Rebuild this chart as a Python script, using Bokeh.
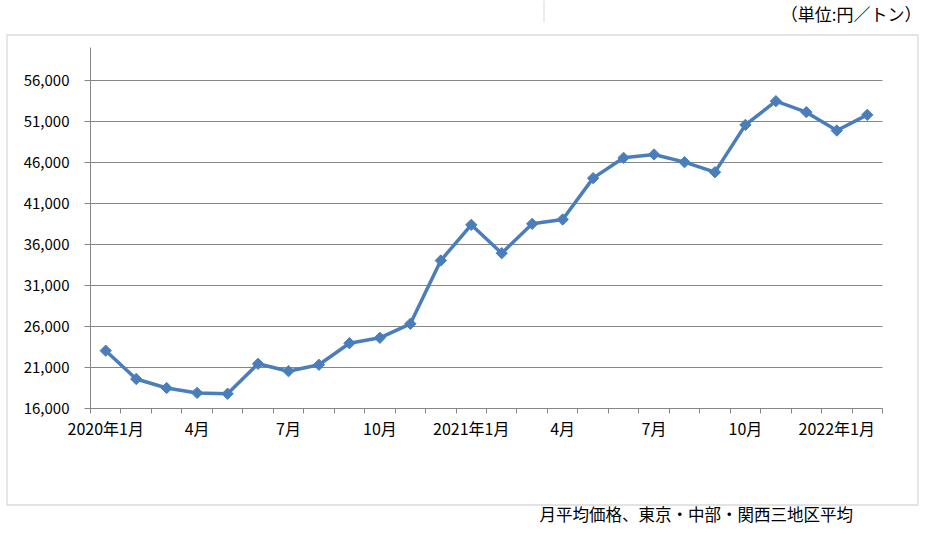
from bokeh.plotting import figure
from bokeh.models import (Range1d, FixedTicker, NumeralTickFormatter, Label,
                          BoxAnnotation, ColumnDataSource)
from bokeh.embed import file_html
from bokeh.resources import INLINE
import math

# ---- data ----
month_labels = ["2020年1月", "2月", "3月", "4月", "5月", "6月", "7月", "8月", "9月",
                "10月", "11月", "12月", "2021年1月", "2月", "3月", "4月", "5月",
                "6月", "7月", "8月", "9月", "10月", "11月", "12月", "2022年1月", "2月"]
prices = [23050, 19600, 18500, 17900, 17800, 21450, 20550, 21330, 23960, 24620,
          26330, 34050, 38400, 34940, 38520, 39050, 44090, 46570, 46980, 46040,
          44820, 50590, 53480, 52140, 49900, 51810]
label_every = 3
y_ticks = [16000, 21000, 26000, 31000, 36000, 41000, 46000, 51000, 56000]
y_min, y_max = 16000, 60000
unit_text = "（単位:円／トン）"
note_text = "月平均価格、東京・中部・関西三地区平均"

FONT = "Noto Sans CJK JP"
GRAY = "#868686"
BLUE = "#4A7EBB"

# ---- layout (pixels, from top-left of the canvas) ----
W, H = 921, 525
PLOT_L, PLOT_R, PLOT_T, PLOT_B = 90, 882, 47.2, 408   # inner plot area

n = len(prices)
kx = (PLOT_R - PLOT_L) / n
ky = (PLOT_B - PLOT_T) / (y_max - y_min)
# the frame fills the whole canvas; axes are pinned inside it
x_range = Range1d(0 - PLOT_L / kx, n + (W - PLOT_R) / kx)
y_range = Range1d(y_min - (H - PLOT_B) / ky, y_max + PLOT_T / ky)

def sx(px):
    return px

def sy(py):
    return H - py

xs = [i + 0.5 for i in range(n)]
src = ColumnDataSource(dict(x=xs, y=prices, m=month_labels))

p = figure(width=W, height=H, output_backend="svg", toolbar_location=None,
           x_range=x_range, y_range=y_range,
           min_border_left=0, min_border_right=0,
           min_border_top=0, min_border_bottom=0)
p.outline_line_color = None
p.background_fill_color = "white"
p.border_fill_color = "white"
p.xgrid.visible = False
p.ygrid.visible = False

# horizontal gridlines across the inner plot area
p.segment(x0=[0] * len(y_ticks), x1=[n] * len(y_ticks), y0=y_ticks, y1=y_ticks,
          line_color=GRAY, line_width=1, level="underlay")

# x axis: tick marks at month boundaries (minor), labels at month centres
major_x = [i + 0.5 for i in range(0, n, label_every)]
xa = p.xaxis[0]
xa.fixed_location = y_min
xa.bounds = (0, n)
xa.ticker = FixedTicker(ticks=major_x, minor_ticks=list(range(0, n + 1)))
xa.major_label_overrides = {i + 0.5: month_labels[i] for i in range(0, n, label_every)}
xa.axis_line_color = GRAY
xa.major_tick_line_color = None
xa.major_tick_in = 0
xa.major_tick_out = 0
xa.minor_tick_line_color = GRAY
xa.minor_tick_in = 0
xa.minor_tick_out = 5
xa.major_label_standoff = 2
xa.major_label_text_font = FONT
xa.major_label_text_font_size = "16px"
xa.major_label_text_color = "black"

# y axis
ya = p.yaxis[0]
ya.fixed_location = 0
ya.bounds = (y_min, y_max)
ya.ticker = FixedTicker(ticks=y_ticks)
ya.formatter = NumeralTickFormatter(format="0,0")
ya.axis_line_color = GRAY
ya.major_tick_line_color = GRAY
ya.major_tick_in = 0
ya.major_tick_out = 6
ya.minor_tick_line_color = None
ya.major_label_standoff = 15
ya.major_label_text_font = FONT
ya.major_label_text_font_size = "15px"
ya.major_label_text_color = "black"

# series
p.line("x", "y", source=src, line_color=BLUE, line_width=3.5)
p.scatter("x", "y", source=src, marker="square", angle=math.pi / 4, size=8,
          fill_color=BLUE, line_color=BLUE, line_width=1)

# outer chart box
p.add_layout(BoxAnnotation(left=sx(6.5), right=sx(917.5), top=sy(34.5), bottom=sy(504.5),
                           left_units="screen", right_units="screen",
                           top_units="screen", bottom_units="screen",
                           fill_color=None, fill_alpha=0, line_color=GRAY,
                           line_width=1.3, level="underlay"))
# faint separator at the top
p.add_layout(BoxAnnotation(left=sx(543), right=sx(544), top=sy(0), bottom=sy(22),
                           left_units="screen", right_units="screen",
                           top_units="screen", bottom_units="screen",
                           fill_color="#d9d9d9", fill_alpha=1, line_color=None,
                           level="underlay"))

p.add_layout(Label(x=sx(921), y=sy(13), x_units="screen", y_units="screen",
                   text=unit_text, text_align="right", text_baseline="middle",
                   text_font=FONT, text_font_size="17px", text_color="black"))
p.add_layout(Label(x=sx(539), y=sy(513), x_units="screen", y_units="screen",
                   text=note_text, text_align="left", text_baseline="middle",
                   text_font=FONT, text_font_size="16.5px", text_color="black"))

open("out.html", "w").write(file_html(p, INLINE))
